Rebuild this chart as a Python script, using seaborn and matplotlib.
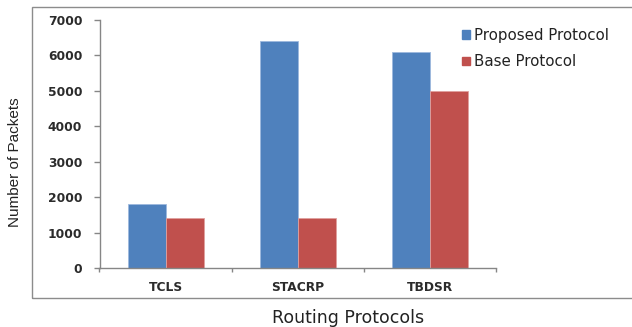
import matplotlib
matplotlib.use("Agg")
import matplotlib.pyplot as plt
import seaborn as sns
import pandas as pd
from matplotlib.patches import Rectangle, Patch

protocols = ["TCLS", "STACRP", "TBDSR"]
proposed = [1800, 6400, 6100]
base = [1400, 1400, 5000]
series_names = ["Proposed Protocol", "Base Protocol"]
y_ticks = [0, 1000, 2000, 3000, 4000, 5000, 6000, 7000]

df = pd.DataFrame({
    "protocol": protocols * 2,
    "packets": proposed + base,
    "series": [series_names[0]] * 3 + [series_names[1]] * 3,
})

sns.set_theme(style="white")
plt.rcParams["font.family"] = ["DejaVu Sans"]

blue = "#4F81BD"
red = "#C0504D"
axis_grey = "#868686"
text_col = "#2b2b2b"

fig = plt.figure(figsize=(6.32, 3.27), dpi=100)
ax = fig.add_axes([99.5 / 632, 59 / 327, 396.5 / 632, 248 / 327])

sns.barplot(data=df, x="protocol", y="packets", hue="series",
            palette=[blue, red], width=0.575, gap=0, ax=ax,
            legend=False, errorbar=None, saturation=1)
for bar, edge in zip(ax.patches, ["#9DB9DE"] * 3 + ["#E0A09E"] * 3):
    bar.set_edgecolor(edge)
    bar.set_linewidth(0.6)

ax.set_ylim(0, 7000)
ax.set_xlim(-0.5, 2.5)
ax.set_yticks(y_ticks)
ax.set_yticklabels([str(v) for v in y_ticks], fontsize=8.8, fontweight="bold",
                   color=text_col)
ax.set_xticks([0, 1, 2])
ax.set_xticklabels(protocols, fontsize=8.8, fontweight="bold", color=text_col)
ax.tick_params(axis="x", length=0, pad=9.5)
ax.set_xticks([-0.5, 0.5, 1.5, 2.5], minor=True)
ax.tick_params(axis="x", which="minor", length=3, color=axis_grey, width=1,
               direction="out", bottom=True)
ax.tick_params(axis="y", length=4.5, color=axis_grey, width=1, direction="out",
               left=True, pad=8)
ax.set_xlabel("")
ax.set_ylabel("")
for side in ["top", "right"]:
    ax.spines[side].set_visible(False)
for side in ["left", "bottom"]:
    ax.spines[side].set_color(axis_grey)
    ax.spines[side].set_linewidth(1)

fig.text(15 / 632, 1 - 162 / 327, "Number of Packets", rotation=90,
         ha="center", va="center", fontsize=11, color="#222222",
         family=["Liberation Sans Narrow", "Liberation Sans", "DejaVu Sans"])
fig.text(348 / 632, 1 - 318 / 327, "Routing Protocols", ha="center",
         va="center", fontsize=12.5, color="#222222")

# surrounding chart frame
fig.patches.append(Rectangle((32 / 632, 1 - 298 / 327), 620 / 632, 291 / 327,
                             transform=fig.transFigure, fill=False,
                             edgecolor="#8C8C8C", linewidth=1))

handles = [Patch(facecolor=blue, edgecolor=blue),
           Patch(facecolor=red, edgecolor=red)]
fig.legend(handles, series_names, loc="upper left",
           bbox_to_anchor=(456 / 632, 1 - 22 / 327), frameon=False,
           fontsize=10.8, handlelength=0.5, handleheight=0.5,
           handletextpad=0.3, labelspacing=0.75, borderaxespad=0,
           labelcolor="#222222")

fig.savefig("out.png", dpi=100)
